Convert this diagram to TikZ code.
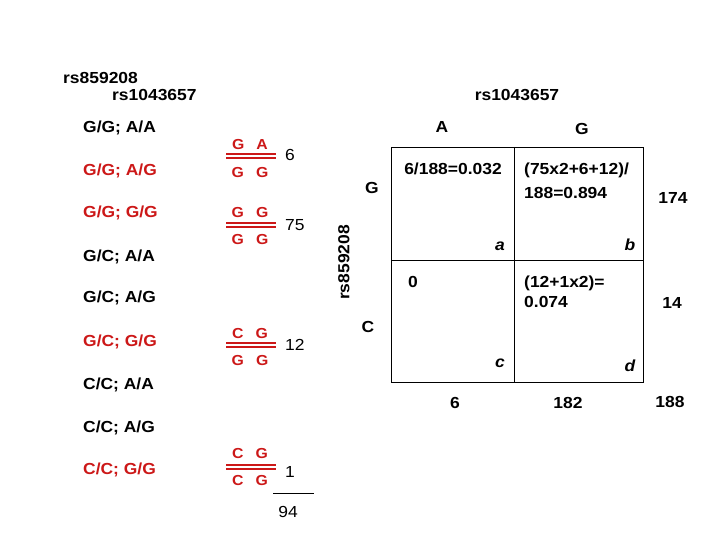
\documentclass[tikz,border=0pt]{standalone}
\usepackage{fontspec}
\setmainfont{Liberation Sans}[FakeStretch=1.09]
\usetikzlibrary{positioning}
\definecolor{hapred}{RGB}{204,24,24}

\begin{document}
\begin{tikzpicture}[x=1pt, y=-1pt,
    lbl/.style={font=\bfseries\fontsize{16}{19}\selectfont, inner sep=0pt, text height=11.5pt, text depth=0pt},
    row/.style={lbl, anchor=west},
    redrow/.style={row, text=hapred},
    hap/.style={lbl, text=hapred, font=\bfseries\fontsize{14.5}{17}\selectfont, text height=10.4pt},
    cnt/.style={font=\fontsize{16}{19}\selectfont, inner sep=0pt, text height=11.5pt, text depth=0pt},
    tag/.style={lbl, font=\bfseries\itshape\fontsize{16}{19}\selectfont},
    dline/.style={hapred, line width=1.1pt},
    grid/.style={black, line width=0.8pt}]
    \useasboundingbox (0,0) rectangle (720,540);

    % genotype list
    \node [row] (snpa) at (63,77.5) {rs859208};
    \node [row] (snpb) at (112,95) {rs1043657};
    \node [row] (r1) at (83,127) {G/G; A/A};
    \node [redrow] (r2) at (83,170) {G/G; A/G};
    \node [redrow] (r3) at (83,212) {G/G; G/G};
    \node [row] (r4) at (83,256) {G/C; A/A};
    \node [row] (r5) at (83,297) {G/C; A/G};
    \node [redrow] (r6) at (83,341) {G/C; G/G};
    \node [row] (r7) at (83,384) {C/C; A/A};
    \node [row] (r8) at (83,427) {C/C; A/G};
    \node [redrow] (r9) at (83,469) {C/C; G/G};

    % haplotype pairs
    \foreach \k/\ya/\yl/\yb/\yc/\ta/\tb/\ba/\bb/\n in {1/144/154/172/155/G/A/G/G/6,
        2/212/223/239/225/G/G/G/G/75, 3/333/343/360/345/C/G/G/G/12, 4/453/465/480/472/C/G/C/G/1} {
        \node [hap] (top\k) at (250,\ya) {\ta\hspace{12pt}\tb};
        \node [hap] (bot\k) at (250,\yb) {\ba\hspace{12pt}\bb};
        \draw [dline] (226,\yl) -- (276,\yl) (226,\yl+4) -- (276,\yl+4);
        \node [cnt, anchor=west] (n\k) at (285,\yc) {\n};
    }
    \draw (273,493) -- (314,493);
    \node [cnt] (total) at (288,512) {94};

    % 2x2 table
    \draw [grid] (391,147) rectangle (643,382);
    \draw [grid] (514,147) -- (514,382);
    \draw [grid] (391,260) -- (643,260);

    \node [lbl] (colsnp) at (517,95) {rs1043657};
    \node [lbl] (colA) at (442,127) {A};
    \node [lbl] (colG) at (582,129) {G};
    \node [lbl, rotate=90] (rowsnp) at (343.5,262.5) {rs859208};
    \node [lbl] (rowG) at (372,188) {G};
    \node [lbl] (rowC) at (368,327) {C};

    \node [lbl] (ca) at (453,169) {6/188=0.032};
    \node [row] (cb1) at (524,169) {(75x2+6+12)/};
    \node [row, below=11.5pt of cb1.south west, anchor=north west] (cb2) {188=0.894};
    \node [lbl] (cc) at (413,282) {0};
    \node [row] (cd1) at (524,282) {(12+1x2)=};
    \node [row, below=7.5pt of cd1.south west, anchor=north west] (cd2) {0.074};

    \node [tag] (ta) at (500,245) {a};
    \node [tag] (tb) at (630,245) {b};
    \node [tag] (tc) at (500,362) {c};
    \node [tag] (td) at (630,366) {d};

    \node [lbl] (sumG) at (673,198) {174};
    \node [lbl] (sumC) at (672,303) {14};
    \node [lbl] (sumA) at (455,403) {6};
    \node [lbl] (sumGc) at (568,403) {182};
    \node [lbl] (sumall) at (670,402) {188};
\end{tikzpicture}
\end{document}
